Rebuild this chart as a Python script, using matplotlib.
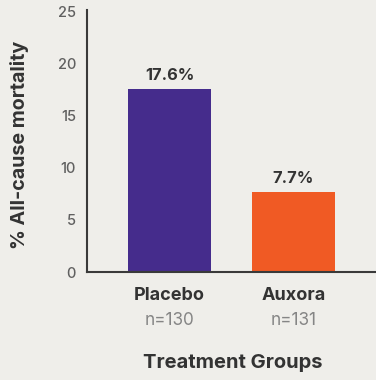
import matplotlib
matplotlib.use("Agg")
import matplotlib.pyplot as plt

categories = ["Placebo", "Auxora"]
n_labels = ["n=130", "n=131"]
values = [17.6, 7.7]
value_labels = ["17.6%", "7.7%"]
yticks = [0, 5, 10, 15, 20, 25]
colors = ["#452c8c", "#f05a24"]

bg = "#efeeea"
dark = "#333333"
gray = "#606060"
plt.rcParams['font.family'] = ['Inter', 'DejaVu Sans']

fig = plt.figure(figsize=(3.76, 3.80), dpi=100, facecolor=bg)
ax = fig.add_axes([87/376, 1-272/380, 1-87/376, 262/380])
ax.set_facecolor(bg)

x = list(range(len(categories)))
ax.bar(x, values, width=0.67, color=colors)
ax.set_xlim(-0.665, 1.665)
ax.set_ylim(0, 25.19)

for xi, v, lab in zip(x, values, value_labels):
    ax.annotate(lab, (xi, v), xytext=(0, 4.5), textcoords="offset points",
                ha="center", va="bottom", fontsize=11.8, fontweight="bold", color=dark)

ax.set_yticks(yticks)
ax.set_yticklabels([str(t) for t in yticks], fontsize=10.5, color=gray, fontweight="medium")
ax.tick_params(axis="y", length=0, pad=8)
ax.set_xticks([])

tr = ax.get_xaxis_transform()
for xi, c, n in zip(x, categories, n_labels):
    ax.text(xi, -0.088, c, transform=tr, ha="center", va="center",
            fontsize=13, fontweight="bold", color=dark)
    ax.text(xi, -0.185, n, transform=tr, ha="center", va="center",
            fontsize=12.3, color="#858585")

fig.text(232.5/376, 1-363/380, "Treatment Groups", ha="center", va="center",
         fontsize=14.5, fontweight="bold", color=dark)
fig.text(20/376, 1-145/380, "% All-cause mortality", rotation=90, ha="center", va="center",
         fontsize=14.2, fontweight="bold", color=dark)

for s in ["top", "right"]:
    ax.spines[s].set_visible(False)
for s in ["left", "bottom"]:
    ax.spines[s].set_color("#3a3a3a")
    ax.spines[s].set_linewidth(1.5)

fig.savefig("out.png", dpi=100, facecolor=bg)
